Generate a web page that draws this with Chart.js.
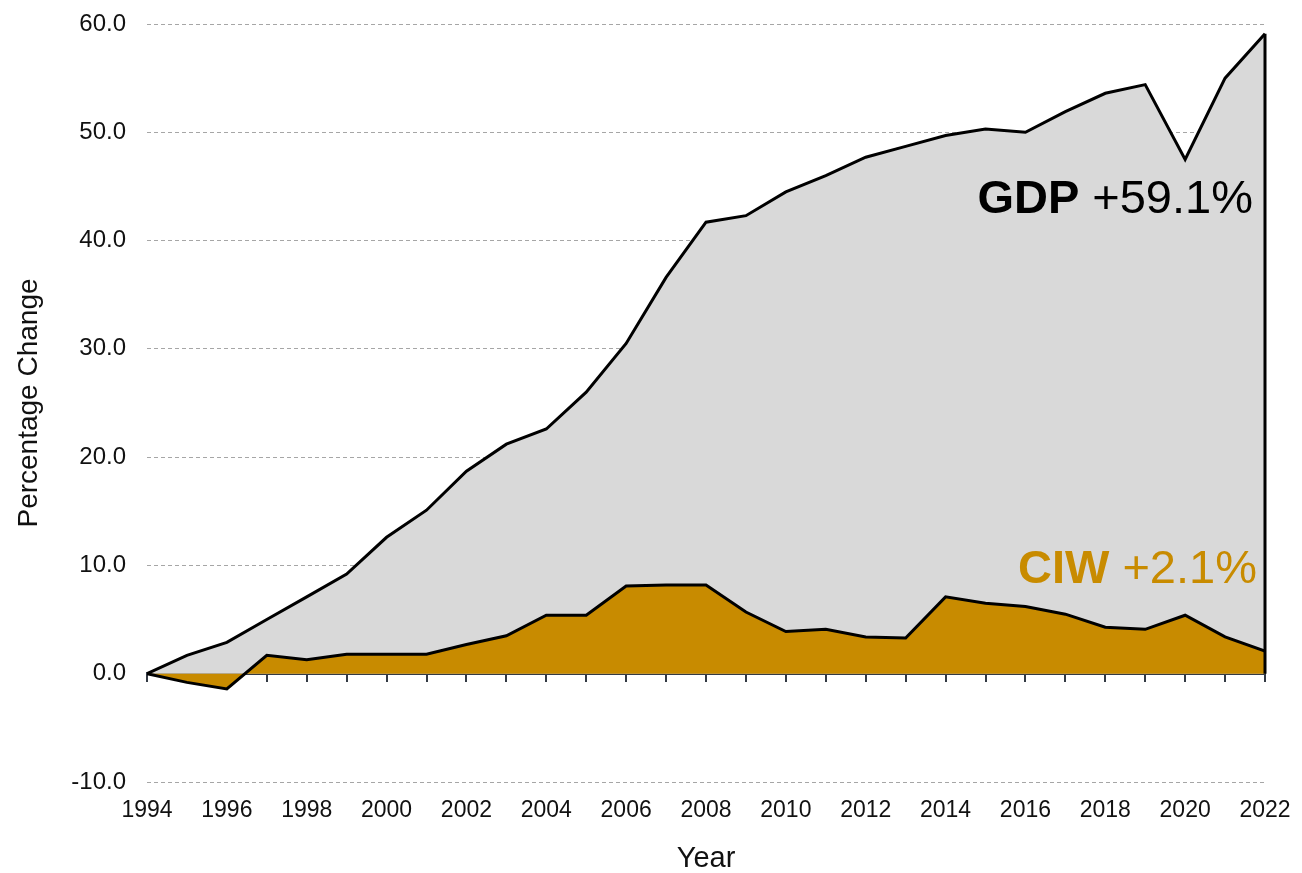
<!DOCTYPE html>
<html>
<head>
<meta charset="utf-8">
<script src="https://cdn.jsdelivr.net/npm/chart.js@4"></script>
<style>
  html, body { margin: 0; padding: 0; background: #fff; }
  #wrap { width: 1302px; height: 873px; position: relative; }
</style>
</head>
<body>
<div id="wrap"><canvas id="chart"></canvas></div>
<script>
/* ---------- Data ---------- */
const years = [1994,1995,1996,1997,1998,1999,2000,2001,2002,2003,2004,2005,2006,2007,
               2008,2009,2010,2011,2012,2013,2014,2015,2016,2017,2018,2019,2020,2021,2022];
const gdp = [0,1.7,2.9,5.0,7.1,9.2,12.6,15.1,18.7,21.2,22.6,26.0,30.5,36.6,
             41.7,42.3,44.5,46.0,47.7,48.7,49.7,50.3,50.0,51.9,53.6,54.4,47.5,55.0,59.1];
const ciw = [0,-0.8,-1.4,1.7,1.3,1.8,1.8,1.8,2.7,3.5,5.4,5.4,8.1,8.2,
             8.2,5.7,3.9,4.1,3.4,3.3,7.1,6.5,6.2,5.5,4.3,4.1,5.4,3.4,2.1];
const yTicks = [-10,0,10,20,30,40,50,60];

const gdpLabel = ["GDP", " +59.1%"];
const ciwLabel = ["CIW", " +2.1%"];

const GOLD = "#c88b00";
const GREY = "#d9d9d9";
const FONT = "'Liberation Sans', Arial, sans-serif";

const pts = (vals) => years.map((y, i) => ({ x: y, y: vals[i] }));

/* ---------- Plugins ---------- */
// closing edge of the GDP area at the last year
const edgeLine = {
  id: "edgeLine",
  afterDatasetsDraw(c) {
    const { x, y } = c.scales;
    const px = x.getPixelForValue(years[years.length - 1]);
    const ctx = c.ctx;
    ctx.save();
    ctx.strokeStyle = "#000";
    ctx.lineWidth = 3;
    ctx.beginPath();
    ctx.moveTo(px, y.getPixelForValue(gdp[gdp.length - 1]));
    ctx.lineTo(px, y.getPixelForValue(0));
    ctx.stroke();
    ctx.restore();
  }
};

function drawPair(ctx, parts, right, base, color) {
  ctx.fillStyle = color;
  ctx.textBaseline = "alphabetic";
  ctx.textAlign = "left";
  ctx.font = `bold 47px ${FONT}`;
  const w1 = ctx.measureText(parts[0]).width;
  ctx.font = `47px ${FONT}`;
  const w2 = ctx.measureText(parts[1]).width;
  const x0 = right - w1 - w2;
  ctx.font = `bold 47px ${FONT}`;
  ctx.fillText(parts[0], x0, base);
  ctx.font = `47px ${FONT}`;
  ctx.fillText(parts[1], x0 + w1, base);
}

const labels = {
  id: "labels",
  afterDraw(c) {
    const ctx = c.ctx;
    ctx.save();
    drawPair(ctx, gdpLabel, 1253, 213, "#000");
    drawPair(ctx, ciwLabel, 1257, 583, GOLD);
    ctx.restore();
  }
};

/* ---------- Chart ---------- */
new Chart(document.getElementById("chart"), {
  type: "line",
  data: {
    datasets: [
      {
        label: "CIW", data: pts(ciw), order: 1,
        borderColor: "#000", borderWidth: 3, backgroundColor: GOLD,
        fill: "origin", pointRadius: 0, tension: 0
      },
      {
        label: "GDP", data: pts(gdp), order: 2,
        borderColor: "#000", borderWidth: 3, backgroundColor: GREY,
        fill: "origin", pointRadius: 0, tension: 0
      }
    ]
  },
  options: {
    responsive: true,
    maintainAspectRatio: false,
    animation: false,
    layout: { padding: { top: 24, right: 37, left: 0, bottom: 0 } },
    plugins: { legend: { display: false }, tooltip: { enabled: false } },
    scales: {
      x: {
        type: "linear", position: "bottom",
        min: years[0], max: years[years.length - 1],
        grid: { display: false },
        border: { display: false },
        ticks: {
          stepSize: 2, padding: 7, color: "#111",
          font: { family: FONT, size: 23 },
          callback: (v) => String(v)
        },
        title: {
          display: true, text: "Year", color: "#111",
          font: { family: FONT, size: 29, lineHeight: 1 }, padding: { top: 19, bottom: 0 }
        },
        afterFit: (s) => { s.height = 91; }
      },
      x0: {
        type: "linear", position: { y: 0 }, axis: "x", z: 1,
        min: years[0], max: years[years.length - 1],
        grid: { drawOnChartArea: false, drawTicks: true, tickLength: 7, color: "#333a44", lineWidth: 2 },
        border: { display: true, color: "#333a44", width: 3 },
        ticks: { stepSize: 1, color: "rgba(0,0,0,0)", font: { size: 1 } },
        afterFit: (s) => { s.height = 0; }
      },
      y: {
        min: -10, max: 60,
        afterBuildTicks: (s) => { s.ticks = yTicks.map(v => ({ value: v })); },
        grid: {
          color: (ctx) => ctx.tick && ctx.tick.value === 0 ? "rgba(0,0,0,0)" : "#a6a6a6",
          lineWidth: 1, drawTicks: false
        },
        border: { display: false, dash: [4, 3] },
        ticks: {
          padding: 21, color: "#111",
          font: { family: FONT, size: 24 },
          callback: (v) => Number(v).toFixed(1)
        },
        title: {
          display: true, text: "Percentage Change", color: "#111",
          font: { family: FONT, size: 28 }, padding: { top: 12, bottom: 14 }
        },
        afterFit: (s) => { s.width = 147; s.paddingTop = 0; s.paddingBottom = 0; }
      }
    }
  },
  plugins: [edgeLine, labels]
});
</script>
</body>
</html>
